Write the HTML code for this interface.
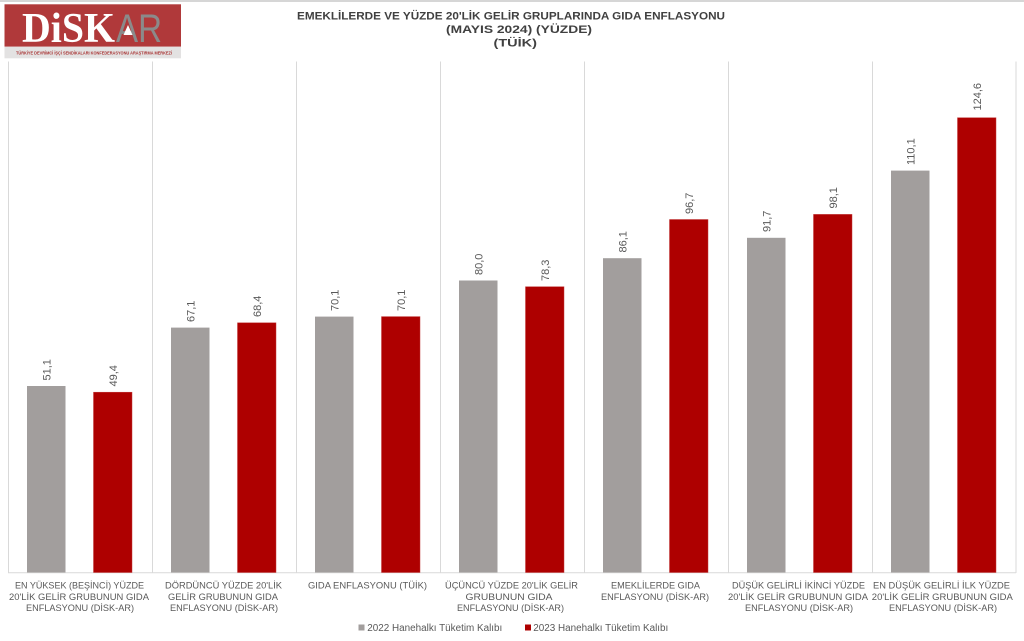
<!DOCTYPE html>
<html>
<head>
<meta charset="utf-8">
<style>
html,body{margin:0;padding:0;background:#fff;}
svg{display:block;}
</style>
</head>
<body>
<svg width="1024" height="641" viewBox="0 0 1024 641" xmlns="http://www.w3.org/2000/svg">
<rect x="0" y="0" width="1024" height="641" fill="#ffffff"/>
<rect x="0" y="0" width="1024" height="2" fill="#d6d6d6"/>

<!-- Logo -->
<rect x="4.5" y="4.3" width="176.5" height="42.4" fill="#b0393a"/>
<rect x="4.5" y="46.7" width="176.5" height="11.6" fill="#e3e2e2"/>
<text x="22" y="42" font-family="Liberation Serif, serif" font-weight="bold" font-size="42" fill="#ffffff" textLength="93" lengthAdjust="spacingAndGlyphs">DiSK</text>
<text x="116" y="42" font-family="Liberation Sans, sans-serif" font-size="40" fill="#8b8a8a" textLength="46" lengthAdjust="spacingAndGlyphs">AR</text>
<polygon points="128,25 123.5,35 132.5,35" fill="#ffffff"/>
<text x="94" y="54.5" text-anchor="middle" font-family="Liberation Sans, sans-serif" font-weight="bold" font-size="4.6" fill="#a83434" textLength="156" lengthAdjust="spacingAndGlyphs">TÜRKİYE DEVRİMCİ İŞÇİ SENDİKALARI KONFEDERASYONU ARAŞTIRMA MERKEZİ</text>

<!-- Title -->
<g font-family="Liberation Sans, sans-serif" font-weight="bold" font-size="11" fill="#404040">
<text x="297" y="19.3" textLength="428" lengthAdjust="spacingAndGlyphs">EMEKLİLERDE VE YÜZDE 20'LİK GELİR GRUPLARINDA GIDA ENFLASYONU</text>
<text x="446" y="33" textLength="146" lengthAdjust="spacingAndGlyphs">(MAYIS 2024) (YÜZDE)</text>
<text x="493.5" y="46.5" textLength="43.5" lengthAdjust="spacingAndGlyphs">(TÜİK)</text>
</g>

<!-- Gridlines -->
<g stroke="#d9d9d9" stroke-width="1">
<line x1="8.5" y1="61.5" x2="8.5" y2="573"/>
<line x1="152.5" y1="61.5" x2="152.5" y2="573"/>
<line x1="296.5" y1="61.5" x2="296.5" y2="573"/>
<line x1="440.5" y1="61.5" x2="440.5" y2="573"/>
<line x1="584.5" y1="61.5" x2="584.5" y2="573"/>
<line x1="728.5" y1="61.5" x2="728.5" y2="573"/>
<line x1="872.5" y1="61.5" x2="872.5" y2="573"/>
<line x1="1016" y1="61.5" x2="1016" y2="573"/>
<line x1="8" y1="572.8" x2="1016" y2="572.8"/>
</g>

<!-- Bars: baseline 572.5, scale 3.650 -->
<g fill="#a29e9d">
<rect x="27" y="386.0" width="38.5" height="186.5"/>
<rect x="171" y="327.6" width="38.5" height="244.9"/>
<rect x="315" y="316.6" width="38.5" height="255.9"/>
<rect x="459" y="280.5" width="38.5" height="292.0"/>
<rect x="603" y="258.2" width="38.5" height="314.3"/>
<rect x="747" y="237.8" width="38.5" height="334.7"/>
<rect x="891" y="170.6" width="38.5" height="401.9"/>
</g>
<g fill="#ae0000" stroke="#c23a3a" stroke-width="0.5">
<rect x="93.5" y="392.2" width="38.5" height="180.3"/>
<rect x="237.5" y="322.8" width="38.5" height="249.7"/>
<rect x="381.5" y="316.6" width="38.5" height="255.9"/>
<rect x="525.5" y="286.7" width="38.5" height="285.8"/>
<rect x="669.5" y="219.5" width="38.5" height="353.0"/>
<rect x="813.5" y="214.4" width="38.5" height="358.1"/>
<rect x="957.5" y="117.7" width="38.5" height="454.8"/>
</g>

<!-- Data labels -->
<g font-family="Liberation Sans, sans-serif" font-size="11" fill="#595959">
<text transform="translate(50.3,380.5) rotate(-90)">51,1</text>
<text transform="translate(116.8,386.5) rotate(-90)">49,4</text>
<text transform="translate(194.3,322) rotate(-90)">67,1</text>
<text transform="translate(260.8,317) rotate(-90)">68,4</text>
<text transform="translate(338.3,311) rotate(-90)">70,1</text>
<text transform="translate(404.8,311) rotate(-90)">70,1</text>
<text transform="translate(482.3,275) rotate(-90)">80,0</text>
<text transform="translate(548.8,281) rotate(-90)">78,3</text>
<text transform="translate(626.3,252.5) rotate(-90)">86,1</text>
<text transform="translate(692.8,214) rotate(-90)">96,7</text>
<text transform="translate(770.3,232) rotate(-90)">91,7</text>
<text transform="translate(836.8,208.5) rotate(-90)">98,1</text>
<text transform="translate(914.3,165) rotate(-90)">110,1</text>
<text transform="translate(980.8,110.5) rotate(-90)">124,6</text>
</g>

<!-- Category labels -->
<g font-family="Liberation Sans, sans-serif" font-size="9" fill="#595959" text-anchor="middle">
<text x="79.5" y="588.5" textLength="129" lengthAdjust="spacingAndGlyphs">EN YÜKSEK (BEŞİNCİ) YÜZDE</text>
<text x="79" y="599.8" textLength="140" lengthAdjust="spacingAndGlyphs">20'LİK GELİR GRUBUNUN GIDA</text>
<text x="80" y="611.2" textLength="108" lengthAdjust="spacingAndGlyphs">ENFLASYONU (DİSK-AR)</text>

<text x="223.5" y="588.5" textLength="117" lengthAdjust="spacingAndGlyphs">DÖRDÜNCÜ YÜZDE 20'LİK</text>
<text x="223" y="599.8" textLength="110" lengthAdjust="spacingAndGlyphs">GELİR GRUBUNUN GIDA</text>
<text x="224" y="611.2" textLength="108" lengthAdjust="spacingAndGlyphs">ENFLASYONU (DİSK-AR)</text>

<text x="367.5" y="588.5" textLength="119" lengthAdjust="spacingAndGlyphs">GIDA ENFLASYONU (TÜİK)</text>

<text x="511.5" y="588.5" textLength="133" lengthAdjust="spacingAndGlyphs">ÜÇÜNCÜ YÜZDE 20'LİK GELİR</text>
<text x="509" y="599.8" textLength="87" lengthAdjust="spacingAndGlyphs">GRUBUNUN GIDA</text>
<text x="510.5" y="611.2" textLength="107" lengthAdjust="spacingAndGlyphs">ENFLASYONU (DİSK-AR)</text>

<text x="655.5" y="588.5" textLength="89" lengthAdjust="spacingAndGlyphs">EMEKLİLERDE GIDA</text>
<text x="655" y="599.8" textLength="108" lengthAdjust="spacingAndGlyphs">ENFLASYONU (DİSK-AR)</text>

<text x="798.5" y="588.5" textLength="133" lengthAdjust="spacingAndGlyphs">DÜŞÜK GELİRLİ İKİNCİ YÜZDE</text>
<text x="798" y="599.8" textLength="140" lengthAdjust="spacingAndGlyphs">20'LİK GELİR GRUBUNUN GIDA</text>
<text x="799" y="611.2" textLength="108" lengthAdjust="spacingAndGlyphs">ENFLASYONU (DİSK-AR)</text>

<text x="941.5" y="588.5" textLength="137" lengthAdjust="spacingAndGlyphs">EN DÜŞÜK GELİRLİ İLK YÜZDE</text>
<text x="942.3" y="599.8" textLength="141" lengthAdjust="spacingAndGlyphs">20'LİK GELİR GRUBUNUN GIDA</text>
<text x="943" y="611.2" textLength="108" lengthAdjust="spacingAndGlyphs">ENFLASYONU (DİSK-AR)</text>
</g>

<!-- Legend -->
<rect x="358.5" y="624.5" width="6" height="6" fill="#a29e9d"/>
<rect x="525" y="624.5" width="6" height="6" fill="#ae0000"/>
<g font-family="Liberation Sans, sans-serif" font-size="10" fill="#595959">
<text x="367.3" y="631" textLength="135" lengthAdjust="spacingAndGlyphs">2022 Hanehalkı Tüketim Kalıbı</text>
<text x="533.3" y="631" textLength="135" lengthAdjust="spacingAndGlyphs">2023 Hanehalkı Tüketim Kalıbı</text>
</g>
</svg>
</body>
</html>
